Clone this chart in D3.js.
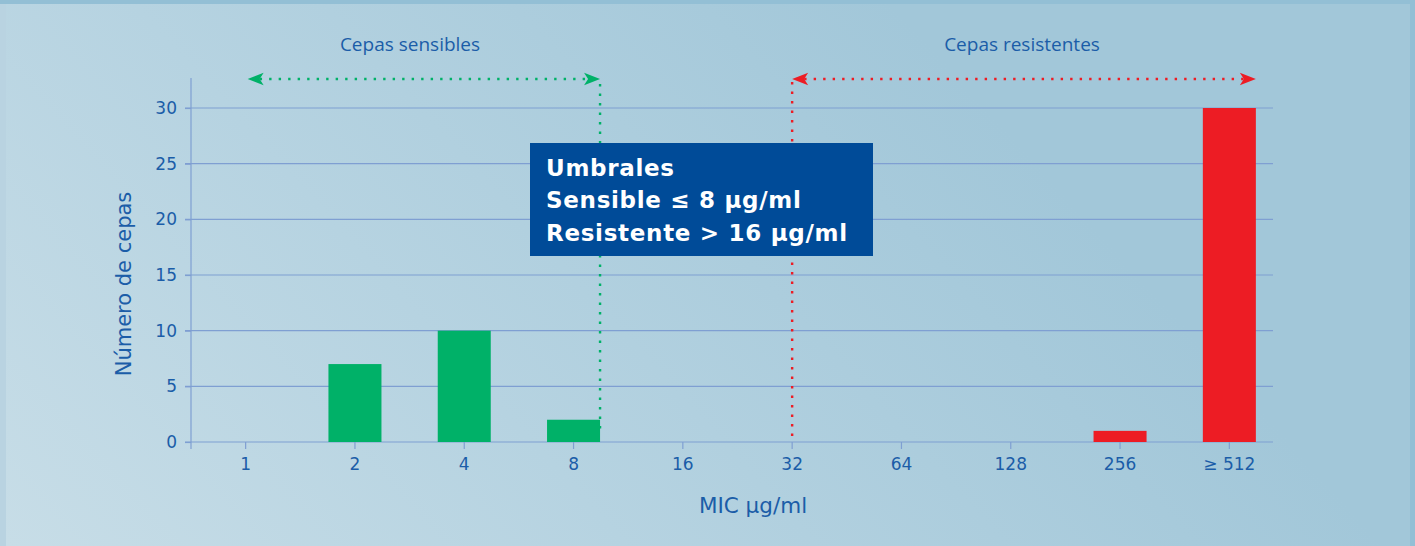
<!DOCTYPE html>
<html><head><meta charset="utf-8">
<script src="https://cdn.jsdelivr.net/npm/d3@7"></script>
<style>html,body{margin:0;padding:0;overflow:hidden;background:#a9cbe0}</style>
</head><body>
<svg id="c" width="1415" height="546"></svg>
<script>
const categories = ["1","2","4","8","16","32","64","128","256","≥ 512"];
const counts     = [0, 7, 10, 2, 0, 0, 0, 0, 1, 30];
const groups     = ["s","s","s","s","n","r","r","r","r","r"];
const yTicks     = [0,5,10,15,20,25,30];
const boxLines   = ["Umbrales","Sensible ≤ 8 µg/ml","Resistente > 16 µg/ml"];

const W=1415,H=546;
const blue="#1b5da8", grid="#7f9fd2", green="#00b168", red="#ed1c24";
const svg=d3.select("#c");
const defs=svg.append("defs");
const lg=defs.append("linearGradient").attr("id","bg").attr("gradientUnits","userSpaceOnUse")
  .attr("x1",6).attr("y1",546).attr("x2",760).attr("y2",-140);
lg.append("stop").attr("offset",0).attr("stop-color","#c7dde7");
lg.append("stop").attr("offset",0.45).attr("stop-color","#b6d3e1");
lg.append("stop").attr("offset",1).attr("stop-color","#a2c7d9");

svg.append("rect").attr("width",W).attr("height",H).attr("fill","#93bfd5");
svg.append("rect").attr("x",0).attr("y",4).attr("width",6).attr("height",H-4).attr("fill","#b9d3e1");
svg.append("rect").attr("x",6).attr("y",4).attr("width",1404).attr("height",H-4).attr("fill","url(#bg)");

const x=d3.scaleBand().domain(categories).range([191,1284]).paddingInner(0.515).paddingOuter(0.2575);
const y=d3.scaleLinear().domain([0,30]).range([442,108]);
const gridEnd=1273;

// gridlines
svg.append("g").selectAll("line").data(yTicks.filter(d=>d>0)).join("line")
  .attr("x1",185).attr("x2",gridEnd).attr("y1",d=>y(d)).attr("y2",d=>y(d))
  .attr("stroke",grid).attr("stroke-width",1.2);

// y axis
const ya=svg.append("g").attr("transform","translate(191,0)")
  .call(d3.axisLeft(y).tickValues(yTicks).tickSize(6).tickPadding(8));
ya.select(".domain").remove();
ya.selectAll(".tick line").attr("stroke",grid).attr("stroke-width",1.2);
ya.selectAll(".tick text").attr("fill",blue).attr("font-family","DejaVu Sans").attr("font-size",17);
svg.append("line").attr("x1",191).attr("x2",191).attr("y1",78).attr("y2",449).attr("stroke",grid).attr("stroke-width",1.2);

// x axis
const xa=svg.append("g").attr("transform","translate(0,442)")
  .call(d3.axisBottom(x).tickSize(7).tickPadding(9));
xa.select(".domain").remove();
xa.selectAll(".tick line").attr("stroke",grid).attr("stroke-width",1.2);
xa.selectAll(".tick text").attr("fill",blue).attr("font-family","DejaVu Sans").attr("font-size",17);
svg.append("line").attr("x1",185).attr("x2",gridEnd).attr("y1",442).attr("y2",442).attr("stroke",grid).attr("stroke-width",1.2);

// annotation lines (behind box)
const yArr=y(32.6);
const gL=x("1")+x.bandwidth()/2+2, gR=x("8")+x.bandwidth();
const rL=x("32")+x.bandwidth()/2, rR=x("≥ 512")+x.bandwidth();
const dash="2.4 7.1";
function dotted(x1,y1,x2,y2,c){svg.append("line").attr("x1",x1).attr("y1",y1).attr("x2",x2).attr("y2",y2)
  .attr("stroke",c).attr("stroke-width",2.4).attr("stroke-dasharray",dash);}
function head(xt,yt,dir,c){
  const L=16,h=6.2,n=12;
  svg.append("path").attr("d",`M${xt},${yt}L${xt-dir*L},${yt-h}L${xt-dir*n},${yt}L${xt-dir*L},${yt+h}Z`).attr("fill",c);
}
dotted(gL+12,yArr,gR-12,yArr,green);
dotted(gR,yArr+5,gR,y(1),green);
head(gL,yArr,-1,green); head(gR,yArr,1,green);
dotted(rL+12,yArr,rR-12,yArr,red);
dotted(rL,yArr+3,rL,442,red);
head(rL,yArr,-1,red); head(rR,yArr,1,red);

// bars
const colorOf={s:green,n:green,r:red};
svg.append("g").selectAll("rect").data(categories.map((c,i)=>({c,v:counts[i],g:groups[i]})).filter(d=>d.v>0)).join("rect")
  .attr("x",d=>x(d.c)).attr("width",x.bandwidth()).attr("y",d=>y(d.v)).attr("height",d=>y(0)-y(d.v))
  .attr("fill",d=>colorOf[d.g]);

// titles
svg.append("text").attr("x",410).attr("y",51).attr("text-anchor","middle").attr("fill",blue)
  .attr("font-family","Open Sans").attr("font-size",19).text("Cepas sensibles");
svg.append("text").attr("x",1022).attr("y",51).attr("text-anchor","middle").attr("fill",blue)
  .attr("font-family","Open Sans").attr("font-size",19).text("Cepas resistentes");

// axis titles
svg.append("text").attr("x",753).attr("y",513).attr("text-anchor","middle").attr("fill",blue)
  .attr("font-family","DejaVu Sans").attr("font-size",21.5).text("MIC µg/ml");
svg.append("text").attr("transform","translate(131,284) rotate(-90)").attr("text-anchor","middle").attr("fill",blue)
  .attr("font-family","DejaVu Sans").attr("font-size",21).text("Número de cepas");

// box
svg.append("rect").attr("x",530).attr("y",143).attr("width",343).attr("height",113).attr("fill","#004b98");
svg.append("g").selectAll("text").data(boxLines).join("text")
  .attr("x",546).attr("y",(d,i)=>175.5+i*32.5).attr("fill","#fff")
  .attr("font-family","DejaVu Sans").attr("font-weight","bold").attr("font-size",23)
  .attr("letter-spacing",0.7).text(d=>d);
</script>
</body></html>
